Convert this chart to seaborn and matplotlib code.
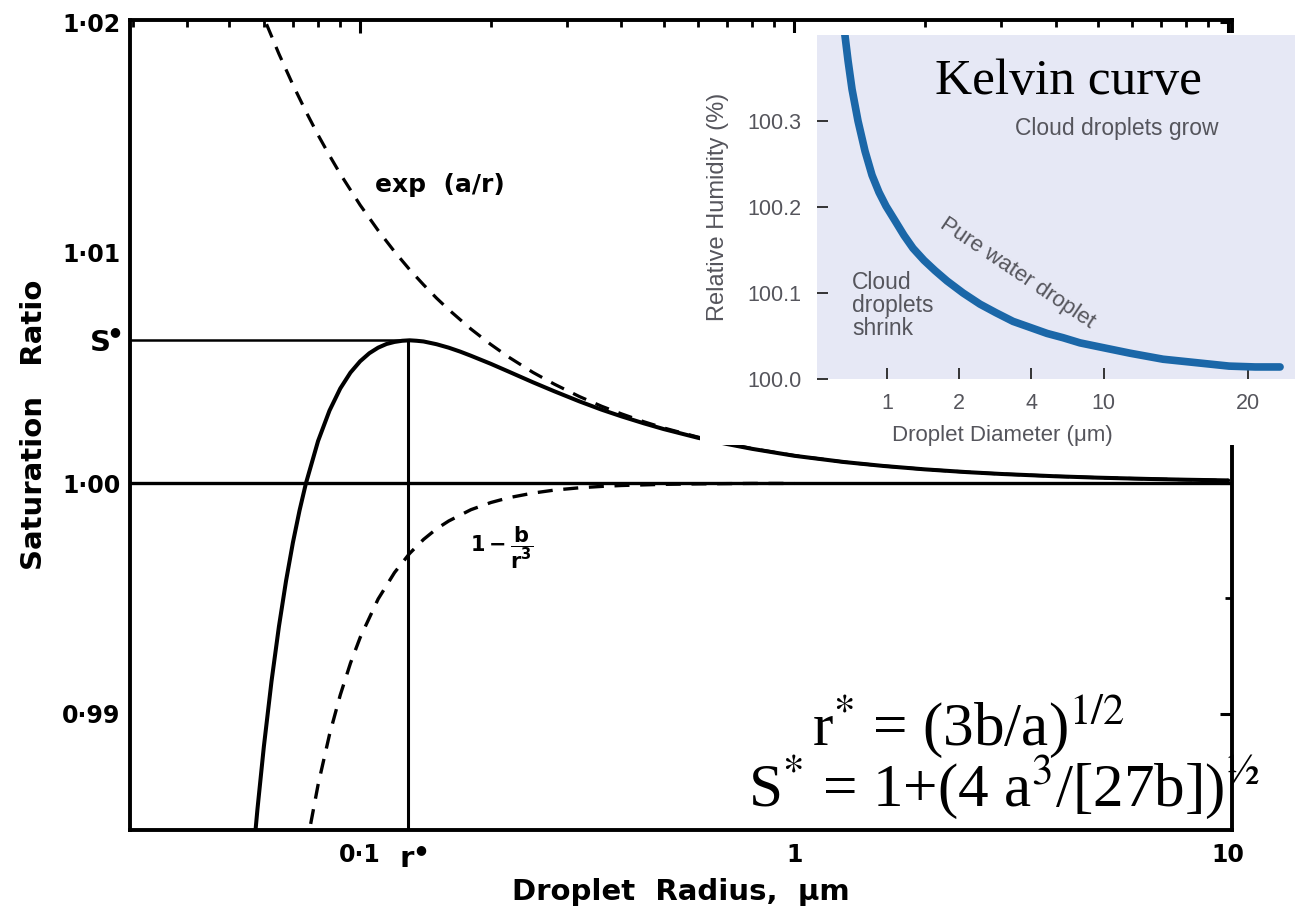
import matplotlib
matplotlib.use("Agg")
import matplotlib.pyplot as plt
import pandas as pd
import seaborn as sns

# Koehler curve (radius in um, saturation ratio)
kohler_r = [0.0565, 0.058, 0.06, 0.0625, 0.065, 0.0675, 0.07, 0.0725, 0.075, 0.08,
            0.085, 0.09, 0.095, 0.1, 0.105, 0.11, 0.115, 0.12, 0.125, 0.13, 0.135,
            0.14, 0.15, 0.16, 0.17, 0.18, 0.2, 0.22, 0.25, 0.28, 0.32, 0.36, 0.4,
            0.45, 0.5, 0.6, 0.7, 0.8, 1.0, 1.3, 1.6, 2.0, 2.5, 3.0, 4.0, 5.0, 6.5, 8.0, 10.0]
kohler_s = [0.98352, 0.98585, 0.98856, 0.99141, 0.99378, 0.99576, 0.99742, 0.99881,
            0.99999, 1.00183, 1.00315, 1.00411, 1.00480, 1.00529, 1.00564, 1.00588,
            1.00604, 1.00613, 1.00618, 1.00620, 1.00618, 1.00615, 1.00603, 1.00588,
            1.00571, 1.00553, 1.00518, 1.00484, 1.00438, 1.00399, 1.00355, 1.00319,
            1.00290, 1.00260, 1.00235, 1.00197, 1.00170, 1.00149, 1.00119, 1.00092,
            1.00075, 1.00060, 1.00048, 1.00040, 1.00030, 1.00024, 1.000185, 1.00015, 1.00012]

# curvature term exp(a/r)
kelvin_r = [0.058, 0.06, 0.065, 0.07, 0.075, 0.08, 0.085, 0.09, 0.1, 0.11, 0.12, 0.13,
            0.14, 0.15, 0.16, 0.18, 0.2, 0.22, 0.25, 0.28, 0.32, 0.36, 0.4, 0.45, 0.5,
            0.6, 0.7, 0.8, 1.0, 1.3, 1.6, 2.0, 2.5, 3.0, 4.0, 5.0, 6.5, 8.0, 10.0]
kelvin_s = [1.02091, 1.02020, 1.01863, 1.01729, 1.01613, 1.01511, 1.01422, 1.01342,
            1.01207, 1.01097, 1.01005, 1.00927, 1.00861, 1.00803, 1.00753, 1.00669,
            1.00602, 1.00547, 1.00481, 1.00430, 1.00376, 1.00334, 1.00301, 1.00267,
            1.00240, 1.00200, 1.00172, 1.00150, 1.00120, 1.00092, 1.00075, 1.00060,
            1.00048, 1.00040, 1.00030, 1.00024, 1.000185, 1.00015, 1.00012]

# solute term 1 - b/r^3
solute_r = [0.075, 0.08, 0.085, 0.09, 0.095, 0.1, 0.11, 0.12, 0.13, 0.14, 0.15, 0.16,
            0.18, 0.2, 0.22, 0.25, 0.28, 0.32, 0.36, 0.4, 0.5, 0.6, 0.8, 1.0]
solute_s = [0.98412, 0.98691, 0.98909, 0.99081, 0.99219, 0.99330, 0.99497, 0.99612,
            0.99695, 0.99756, 0.99802, 0.99836, 0.99885, 0.99916, 0.99937, 0.99957,
            0.99970, 0.99980, 0.99986, 0.99990, 0.99995, 0.99997, 0.99999, 0.99999]

r_star = 0.129
s_star = 1.0062
saturation = 1.0

x_ticks = [0.1, 1, 10]
x_tick_labels = ["0·1", "1", "10"]
y_major = [0.99, 1.00, 1.01, 1.02]
y_major_labels = ["0·99", "1·00", "1·01", "1·02"]
y_minor = [0.995, 1.005, 1.015]

# inset: Kelvin curve (x = tick slot position, y = relative humidity %)
inset_pos = [0.391, 0.418, 0.460, 0.515, 0.598, 0.695, 0.792, 0.889, 0.986, 1.111,
             1.235, 1.360, 1.512, 1.665, 1.831, 2.053, 2.288, 2.510, 2.745, 2.981,
             3.216, 3.438, 3.673, 4.019, 4.366, 4.823, 5.280, 5.737, 6.097, 6.443]
inset_rh = [100.419, 100.399, 100.370, 100.337, 100.300, 100.265, 100.237, 100.217,
            100.201, 100.184, 100.167, 100.152, 100.138, 100.126, 100.114, 100.100,
            100.087, 100.077, 100.067, 100.060, 100.053, 100.048, 100.042, 100.036,
            100.030, 100.023, 100.019, 100.015, 100.014, 100.014]
inset_tick_pos = [1, 2, 3, 4, 6]
inset_tick_labels = ["1", "2", "4", "10", "20"]
inset_yticks = [100.0, 100.1, 100.2, 100.3]

sns.set_theme(style="white")
plt.rcParams["font.family"] = ["DejaVu Sans"]
plt.rcParams.update({"text.color": "black", "axes.labelcolor": "black",
                     "xtick.color": "black", "ytick.color": "black"})

W, H = 1295, 911
fig = plt.figure(figsize=(W / 100, H / 100), dpi=100)
fig.patch.set_facecolor("white")


def fbox(x0, y0, x1, y1):
    return [x0 / W, (H - y1) / H, (x1 - x0) / W, (y1 - y0) / H]


ax = fig.add_axes(fbox(130, 20, 1232, 830))
ax.set_facecolor("white")
ax.set_xscale("log")
xlim = (0.0295, 10.2)
ylim = (0.98495, 1.0201)

sns.lineplot(data=pd.DataFrame({"r": kelvin_r, "s": kelvin_s}), x="r", y="s", ax=ax,
             color="black", lw=2.3, linestyle=(0, (4.5, 3.2)), sort=False)
sns.lineplot(data=pd.DataFrame({"r": solute_r, "s": solute_s}), x="r", y="s", ax=ax,
             color="black", lw=2.4, linestyle=(0, (4.5, 3.2)), sort=False)
ax.axhline(saturation, color="black", lw=2.4)
sns.lineplot(data=pd.DataFrame({"r": kohler_r, "s": kohler_s}), x="r", y="s", ax=ax,
             color="black", lw=2.9, sort=False)
ax.hlines(s_star, xlim[0], r_star, color="black", lw=1.8)
ax.vlines(r_star, ylim[0], s_star, color="black", lw=2.2)

ax.set_xlim(*xlim)
ax.set_ylim(*ylim)
ax.set_xticks(x_ticks)
ax.set_xticklabels(x_tick_labels)
ax.set_xticks([m * d for d in (0.01, 0.1, 1) for m in range(2, 10) if xlim[0] < m * d < xlim[1]], minor=True)
ax.set_xticklabels([], minor=True)
ax.set_yticks(y_major)
ax.set_yticklabels(y_major_labels)
ax.set_yticks(y_minor, minor=True)

for sp in ax.spines.values():
    sp.set_visible(True)
    sp.set_color("black")
    sp.set_linewidth(2.8)
ax.tick_params(which="both", direction="in", top=True, right=True, colors="black")
ax.tick_params(which="major", length=9, width=2.2)
ax.tick_params(which="minor", length=5, width=2.0)
ax.tick_params(axis="x", which="major", pad=9, labelsize=17)
ax.tick_params(axis="y", which="major", pad=7, labelsize=17)
for lab in ax.get_xticklabels() + ax.get_yticklabels():
    lab.set_fontweight("bold")

ax.set_xlabel("Droplet  Radius,  μm", fontsize=21, fontweight="bold", labelpad=8)
ax.set_ylabel("Saturation   Ratio", fontsize=21, fontweight="bold", labelpad=10)

# S* and r* markers: bold letter plus a raised filled dot
ax.annotate("S", xy=(0, s_star), xycoords=ax.get_yaxis_transform(), xytext=(-14, -2),
            textcoords="offset points", ha="right", va="center", fontsize=21, fontweight="bold")
ax.annotate("●", xy=(0, s_star), xycoords=ax.get_yaxis_transform(), xytext=(-11, 6),
            textcoords="offset points", ha="center", va="center", fontsize=9)
ax.annotate("r", xy=(r_star, 0), xycoords=ax.get_xaxis_transform(), xytext=(-1, -11),
            textcoords="offset points", ha="center", va="top", fontsize=21, fontweight="bold")
ax.annotate("●", xy=(r_star, 0), xycoords=ax.get_xaxis_transform(), xytext=(9, -14),
            textcoords="offset points", ha="center", va="center", fontsize=9)

ax.text(0.108, 1.01293, "exp  (a/r)", fontsize=18, fontweight="bold", ha="left", va="center")
ax.text(0.179, 0.99718, r"$\mathbf{1-\dfrac{b}{r^3}}$", fontsize=15, ha="left", va="center",
        math_fontfamily="dejavusans")

# white patch carrying the pasted Kelvin-curve figure
back = fig.add_axes(fbox(700, 33, 1295, 445))
back.set_facecolor("white")
back.set_xticks([])
back.set_yticks([])
for sp in back.spines.values():
    sp.set_visible(False)

ins = fig.add_axes(fbox(817, 35, 1295, 379))
ins.set_facecolor("#E6E8F5")
sns.lineplot(data=pd.DataFrame({"d": inset_pos, "rh": inset_rh}), x="d", y="rh", ax=ins,
             color="#1B67A8", lw=5.5, sort=False)
ins.set_xlim(0.03, 6.65)
ins.set_ylim(100.0, 100.4)
ins.set_xticks(inset_tick_pos)
ins.set_xticklabels(inset_tick_labels)
ins.set_yticks(inset_yticks)
ins.set_yticklabels([f"{v:.1f}" for v in inset_yticks])
for sp in ins.spines.values():
    sp.set_visible(False)
gray = "#55555C"
ins.tick_params(direction="in", length=8, width=1.4, colors="#333333", labelcolor=gray,
                labelsize=15.5, bottom=True, left=True)
ins.tick_params(axis="x", pad=10)
ins.tick_params(axis="y", pad=11)
for lab in ins.get_xticklabels() + ins.get_yticklabels():
    lab.set_fontfamily("Liberation Sans")
ins.set_xlabel("Droplet Diameter (μm)", fontsize=16, color=gray, family="Liberation Sans")
ins.set_ylabel("Relative Humidity (%)", fontsize=17, color=gray, family="Liberation Sans")
ins.xaxis.set_label_coords(0.387, -0.135)
ins.yaxis.set_label_coords(-0.185, 0.5)

ins.text(1.665, 100.331, "Kelvin curve", fontsize=37, family="Liberation Serif",
         color="black", ha="left", va="baseline")
ins.text(2.77, 100.291, "Cloud droplets grow", fontsize=16.5, family="Liberation Sans",
         color=gray, ha="left", va="center")
ins.text(0.515, 100.085, "Cloud\ndroplets\nshrink", fontsize=16.5, family="Liberation Sans",
         color=gray, ha="left", va="center", linespacing=1.0)
ins.text(2.80, 100.123, "Pure water droplet", fontsize=16, family="Liberation Sans",
         color=gray, ha="center", va="center", rotation=-34, rotation_mode="anchor")

fig.text(812 / W, 1 - 745 / H, r"r$^{\text{*}}$ = (3b/a)$^{\text{1/2}}$", fontsize=44,
         family="Liberation Serif", math_fontfamily="stix", color="black",
         ha="left", va="baseline", zorder=10)
fig.text(748 / W, 1 - 806 / H, r"S$^{\text{*}}$ = 1+(4 a$^{\text{3}}$/[27b])$^{\text{½}}$", fontsize=44,
         family="Liberation Serif", math_fontfamily="stix", color="black",
         ha="left", va="baseline", zorder=10)

fig.savefig("out.png", dpi=100, facecolor="white")
